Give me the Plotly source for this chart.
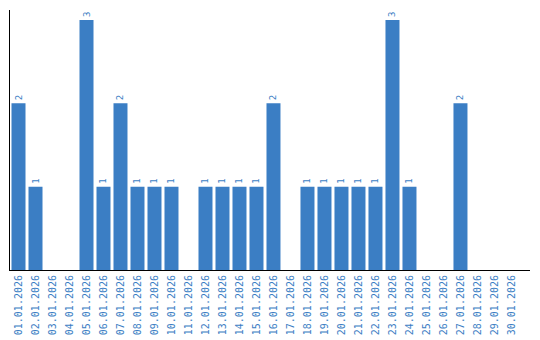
import plotly.graph_objects as go

dates = [f"{d:02d}.01.2026" for d in range(1, 31)]
values = [2, 1, 0, 0, 3, 1, 2, 1, 1, 1, 0, 1, 1, 1, 1, 2, 0, 1, 1, 1, 1, 1, 3, 1, 0, 0, 2, 0, 0, 0]

color = "#3b7ec4"
labels = [str(v) if v > 0 else "" for v in values]

fig = go.Figure(go.Bar(
    x=dates, y=values, text=labels, textposition="outside", textangle=-90,
    textfont=dict(family="DejaVu Sans Mono", size=9, color=color),
    marker=dict(color=color, line=dict(width=0)), width=14/17, cliponaxis=False,
))
fig.update_layout(
    width=540, height=340, margin=dict(l=10, r=10, t=10, b=70),
    paper_bgcolor="white", plot_bgcolor="white", showlegend=False,
    uniformtext=dict(minsize=9, mode="show"),
)
fig.update_xaxes(type="category", range=[-0.5, 30.09], showline=True, linecolor="black", linewidth=1,
                 ticks="", tickangle=-90, showgrid=False, automargin=False,
                 tickfont=dict(family="DejaVu Sans Mono", size=10, color=color))
fig.update_yaxes(range=[0, 3.12], showline=True, linecolor="black", linewidth=1, automargin=False,
                 showticklabels=False, ticks="", showgrid=False, zeroline=False)
fig.write_html("out.html")
